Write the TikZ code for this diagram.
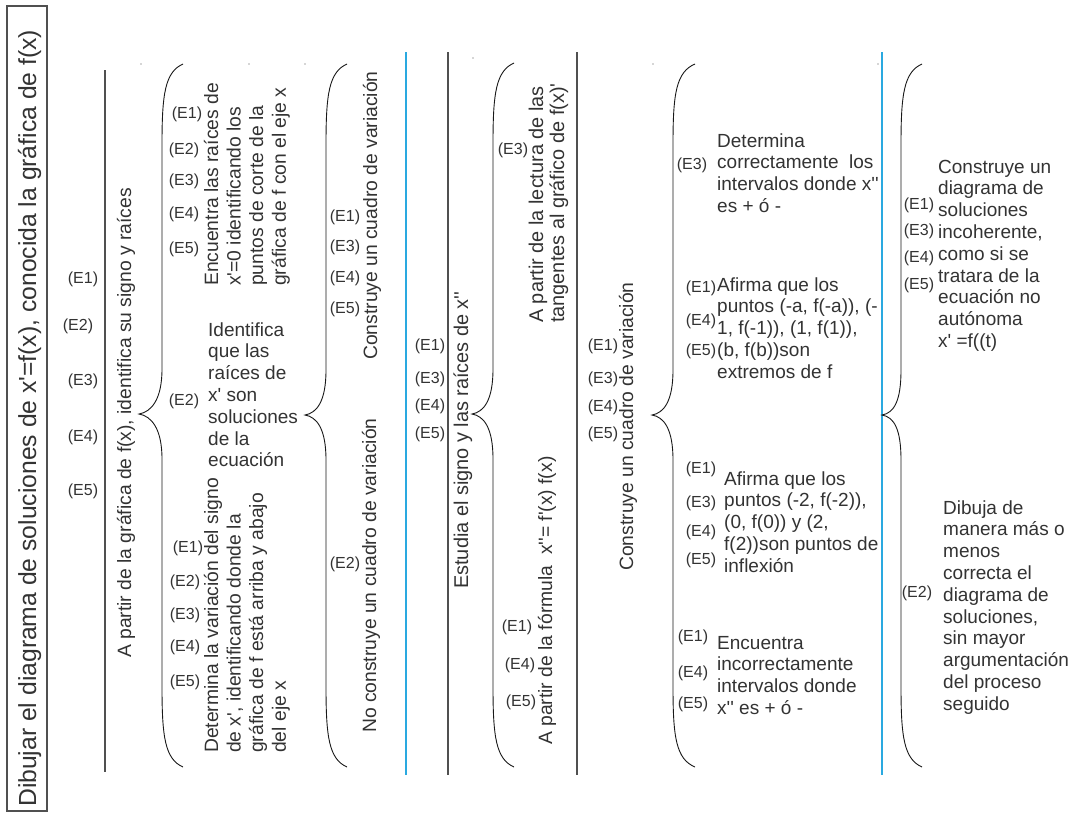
\documentclass[tikz,border=0pt]{standalone}
\usepackage{fontspec}
\setmainfont{Liberation Sans}[Ligatures=TeXOff]
\definecolor{txt}{HTML}{333333}
\definecolor{ln}{HTML}{505050}
\definecolor{bl}{HTML}{2AA9E0}
\newcommand{\mainsz}{\fontsize{19}{21.8}\selectfont}
\newcommand{\lblsz}{\fontsize{16}{18}\selectfont}
\newcommand{\rotsz}{\fontsize{19.3}{22.6}\selectfont}
\newcommand{\rotbig}{\fontsize{19.9}{21.2}\selectfont}
\newcommand{\titlesz}{\fontsize{24.7}{26}\selectfont}
\newcommand{\blines}[1]{\parbox[t]{300pt}{\raggedright #1}}
\newcommand{\curly}[6]{% xe, xb, xt, ytop, ytip, ybot
  \draw[brc] (#1,#4) .. controls ({#2+3},{#4+8}) and (#2,{#4+30}) .. (#2,{#4+80})
    -- (#2,{#5-45}) .. controls (#2,{#5-14}) and ({#3+12},{#5-2}) .. (#3,#5)
    .. controls ({#3+12},{#5+2}) and (#2,{#5+14}) .. (#2,{#5+45})
    -- (#2,{#6-80}) .. controls (#2,{#6-30}) and ({#2+3},{#6-8}) .. (#1,#6);
}
\tikzset{
  lbl/.style={font=\lblsz, text=txt, inner sep=0pt},
  blk/.style={font=\mainsz, text=txt, inner sep=0pt, anchor=base west},
  rot/.style={font=\rotsz, text=txt, inner sep=0pt, anchor=base west, rotate=90},
  gline/.style={draw=ln, line width=1.1pt},
  bline/.style={draw=bl, line width=1.2pt},
  brc/.style={draw=black!90, line width=0.9pt},
  tbox/.style={draw=ln, line width=1.1pt},
  dot/.style={fill=ln},
}
\begin{document}
\begin{tikzpicture}[x=1pt,y=-1pt]
\useasboundingbox (0,0) rectangle (1073,817);
\fill[white] (0,0) rectangle (1073,817);

% title box
\draw[tbox] (7,6) rectangle (47,811);
\node[rot, font=\titlesz] (title) at (36,807) {Dibujar el diagrama de soluciones de x'=f(x), conocida la gráfica de f(x)};

% column 1
\node[lbl] (a1) at (83,279) {(E1)};
\node[lbl] (a2) at (78,326) {(E2)};
\node[lbl] (a3) at (83,381) {(E3)};
\node[lbl] (a4) at (83,437) {(E4)};
\node[lbl] (a5) at (83,491) {(E5)};
\draw[gline] (105,70) -- (105,772);
\node[rot] (r2) at (131,658) {A partir de la gráfica de f(x), identifica su signo y raíces};

\curly{183}{162}{139}{64}{414}{767}

% upper sub-block
\node[lbl] (b1) at (187,114) {(E1)};
\node[lbl] (b2) at (184,150) {(E2)};
\node[lbl] (b3) at (184,181) {(E3)};
\node[lbl] (b4) at (184,214) {(E4)};
\node[lbl] (b5) at (184,249) {(E5)};
\node[rot] (m1) at (218,286) {\blines{Encuentra las raíces de\\x'=0 identificando los\\puntos de corte de la\\gráfica de f con el eje x}};

\node[lbl] (c2) at (184,401) {(E2)};
\node[blk] (h1) at (208,336) {\blines{Identifica\\que las\\raíces de\\x' son\\soluciones\\de la\\ecuación}};

\node[lbl] (d1) at (188,548) {(E1)};
\node[lbl] (d2) at (185,582) {(E2)};
\node[lbl] (d3) at (185,615) {(E3)};
\node[lbl] (d4) at (185,647) {(E4)};
\node[lbl] (d5) at (185,682) {(E5)};
\node[rot] (m2) at (218,753) {\blines{Determina la variación del signo\\de x', identificando donde la\\gráfica de f está arriba y abajo\\del eje x}};

\curly{347}{326}{305}{64}{415}{767}

\node[lbl] (e1) at (345,217) {(E1)};
\node[lbl] (e3) at (345,247) {(E3)};
\node[lbl] (e4) at (345,278) {(E4)};
\node[lbl] (e5) at (345,309) {(E5)};
\node[rot] (r7) at (377,360) {Construye un cuadro de variación};
\node[lbl] (f2) at (345,564) {(E2)};
\node[rot] (r8) at (376,733) {No construye un cuadro de variación};

\draw[bline] (406,52) -- (406,775);

% column 3
\node[lbl] (g1) at (430,346) {(E1)};
\node[lbl] (g3) at (430,379) {(E3)};
\node[lbl] (g4) at (430,406) {(E4)};
\node[lbl] (g5) at (430,434) {(E5)};
\draw[gline] (448,52) -- (448,775);
\node[rot, font=\rotbig] (r3) at (468,589) {Estudia el signo y las raíces de x''};

\curly{514}{493}{472}{63}{414}{767}

\node[lbl] (k3) at (513,150) {(E3)};
\node[rot, font=\rotbig] (r4) at (543,323) {\blines{A partir de la lectura de las\\tangentes al gráfico de f(x)'}};
\node[lbl] (l1) at (517,627) {(E1)};
\node[lbl] (l4) at (520,665) {(E4)};
\node[lbl] (l5) at (521,702) {(E5)};
\node[rot] (r5) at (552,745) {A partir de la fórmula\ \ x''= f'(x) f(x)};

\draw[gline] (577,52) -- (577,775);

% column 4
\node[lbl] (n1) at (603,346) {(E1)};
\node[lbl] (n3) at (603,379) {(E3)};
\node[lbl] (n4) at (603,407) {(E4)};
\node[lbl] (n5) at (603,434) {(E5)};
\node[rot] (r6) at (633,571) {Construye un cuadro de variación};

\curly{695}{673}{652}{64}{415}{767}

\node[lbl] (p3) at (692,165) {(E3)};
\node[blk] (h2) at (717,147) {\blines{Determina\\correctamente\ \ los\\intervalos donde x''\\es + ó -}};

\node[lbl] (q1) at (701,288) {(E1)};
\node[lbl] (q4) at (701,321) {(E4)};
\node[lbl] (q5) at (701,351) {(E5)};
\node[blk] (h3) at (717,291) {\blines{Afirma que los\\puntos (-a, f(-a)), (-\\1, f(-1)), (1, f(1)),\\(b, f(b))son\\extremos de f}};

\node[lbl] (s1) at (701,469) {(E1)};
\node[lbl] (s3) at (701,503) {(E3)};
\node[lbl] (s4) at (701,532) {(E4)};
\node[lbl] (s5) at (701,560) {(E5)};
\node[blk] (h4) at (724,485) {\blines{Afirma que los\\puntos (-2, f(-2)),\\(0, f(0)) y (2,\\f(2))son puntos de\\inflexión}};

\node[lbl] (t1) at (693,637) {(E1)};
\node[lbl] (t4) at (693,673) {(E4)};
\node[lbl] (t5) at (693,704) {(E5)};
\node[blk] (h5) at (717,649) {\blines{Encuentra\\incorrectamente\\intervalos donde\\x'' es + ó -}};

\draw[bline] (882,52) -- (882,775);

\curly{922}{901}{882}{64}{415}{767}

\node[lbl] (u1) at (919,205) {(E1)};
\node[lbl] (u3) at (919,231) {(E3)};
\node[lbl] (u4) at (919,258) {(E4)};
\node[lbl] (u5) at (919,285) {(E5)};
\node[blk] (h6) at (938,173) {\blines{Construye un\\diagrama de\\soluciones\\incoherente,\\como si se\\tratara de la\\ecuación no\\autónoma\\x' =f((t)}};

\node[lbl] (v2) at (917,593) {(E2)};
\node[blk] (h7) at (943,514) {\blines{Dibuja de\\manera más o\\menos\\correcta el\\diagrama de\\soluciones,\\sin mayor\\argumentación\\del proceso\\seguido}};

% stray marks
\fill[dot] (141,64) circle (0.7);
\fill[dot] (249,64) circle (0.7);
\fill[dot] (305,64) circle (0.7);
\fill[dot] (473,58) circle (0.7);
\fill[dot] (653,64) circle (0.7);
\fill[dot] (878,64) circle (0.7);
\end{tikzpicture}
\end{document}
